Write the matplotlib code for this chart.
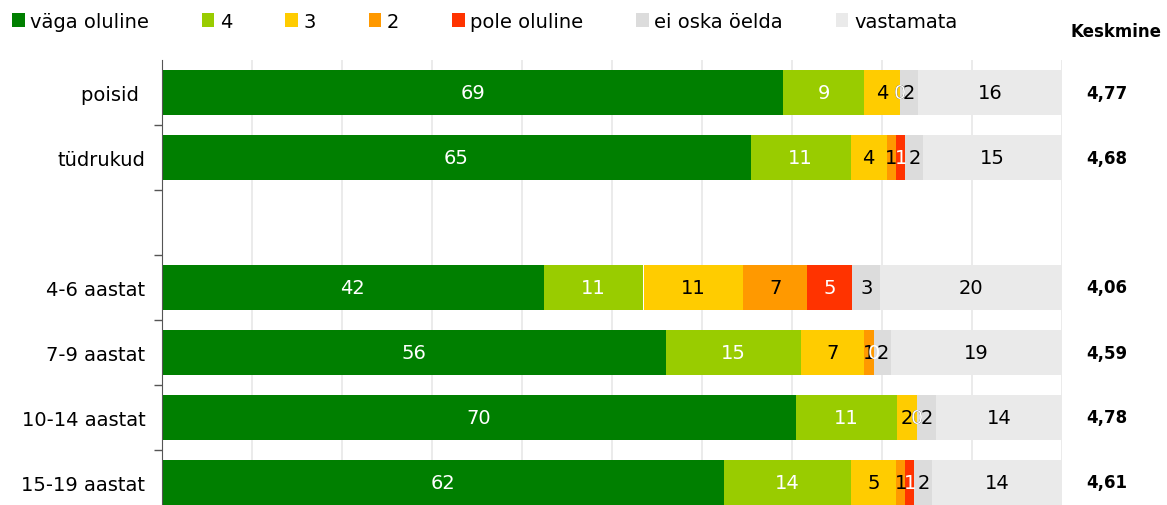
import numpy as np
import matplotlib.pyplot as plt
from matplotlib.ticker import FixedLocator, NullFormatter

# Rows (the empty string is a spacer row between the two groups)
groups = ['poisid ', 'tüdrukud', '', '4-6 aastat', '7-9 aastat', '10-14 aastat', '15-19 aastat']
series = ['väga oluline', '4', '3', '2', 'pole oluline', 'ei oska öelda', 'vastamata']

# percentages per answer category
vaga_oluline = [69.0, 65.4, np.nan, 42.4, 56.0, 70.4, 62.4]
neli = [9.0, 11.1, np.nan, 11.1, 15.0, 11.3, 14.1]
kolm = [4.0, 4.0, np.nan, 11.1, 7.0, 2.2, 5.1]
kaks = [0.0, 1.1, np.nan, 7.1, 1.1, 0.0, 1.0]
pole_oluline = [0.0, 1.0, np.nan, 5.0, 0.0, 0.0, 1.0]
ei_oska = [2.0, 2.0, np.nan, 3.1, 1.9, 2.1, 2.0]
vastamata = [16.0, 15.4, np.nan, 20.2, 19.0, 14.0, 14.4]

keskmine = [4.77, 4.68, np.nan, 4.06, 4.59, 4.78, 4.61]

colors = ['#007f00', '#99cc00', '#ffcc00', '#ff9900', '#ff3300', '#dcdcdc', '#eaeaea']
text_colors = ['white', 'white', 'black', 'black', 'white', 'black', 'black']

data = [vaga_oluline, neli, kolm, kaks, pole_oluline, ei_oska, vastamata]

fig = plt.figure(figsize=(11.67, 5.06), dpi=100)
ax = fig.add_axes([162 / 1167, -10 / 506, 900 / 1167, 455 / 506])

y = np.arange(len(groups))
left = np.zeros(len(groups))
handles = []
for vals, name, col, tcol in zip(data, series, colors, text_colors):
    v = np.nan_to_num(np.array(vals, dtype=float))
    bars = ax.barh(y, v, left=left, height=0.68, color=col, label=name, zorder=2)
    handles.append(bars)
    for rect, val in zip(bars, vals):
        if np.isnan(val):
            continue
        ax.text(rect.get_x() + rect.get_width() / 2, rect.get_y() + rect.get_height() / 2,
                f'{val:.0f}', ha='center', va='center', color=tcol, fontsize=14, zorder=3)
    left += v

ax.set_xlim(0, 100)
ax.set_ylim(len(groups) - 0.5, -0.5)
ax.set_xticks(np.arange(0, 101, 10))
ax.tick_params(axis='x', length=0, labelbottom=False)
ax.grid(axis='x', color='#e8e8e8', linewidth=1.2, zorder=0)

ax.set_yticks(y)
ax.set_yticklabels(groups, fontsize=14)
ax.tick_params(axis='y', which='major', length=0, pad=12)
ax.yaxis.set_minor_locator(FixedLocator(np.arange(0.5, len(groups) - 1, 1.0)))
ax.yaxis.set_minor_formatter(NullFormatter())
ax.tick_params(axis='y', which='minor', length=6, color='#555555', width=1)

for s in ['top', 'right', 'bottom']:
    ax.spines[s].set_visible(False)
ax.spines['left'].set_color('#555555')

# Keskmine column
fig.text(1116 / 1167, 1 - 32 / 506, 'Keskmine', ha='center', va='center',
         fontsize=12, fontweight='bold')
for yi, m in zip(y, keskmine):
    if np.isnan(m):
        continue
    ax.text(1.05, yi, f'{m:.2f}'.replace('.', ','), transform=ax.get_yaxis_transform(),
            ha='center', va='center', fontsize=12, fontweight='bold', clip_on=False)

fig.legend(handles, series, loc='center left', bbox_to_anchor=(12 / 1167, 1 - 22 / 506),
           ncol=7, frameon=False, fontsize=14, handlelength=0.65, handleheight=0.75,
           handletextpad=0.3, columnspacing=2.7, borderpad=0, borderaxespad=0)

fig.savefig('out.png', dpi=100)
